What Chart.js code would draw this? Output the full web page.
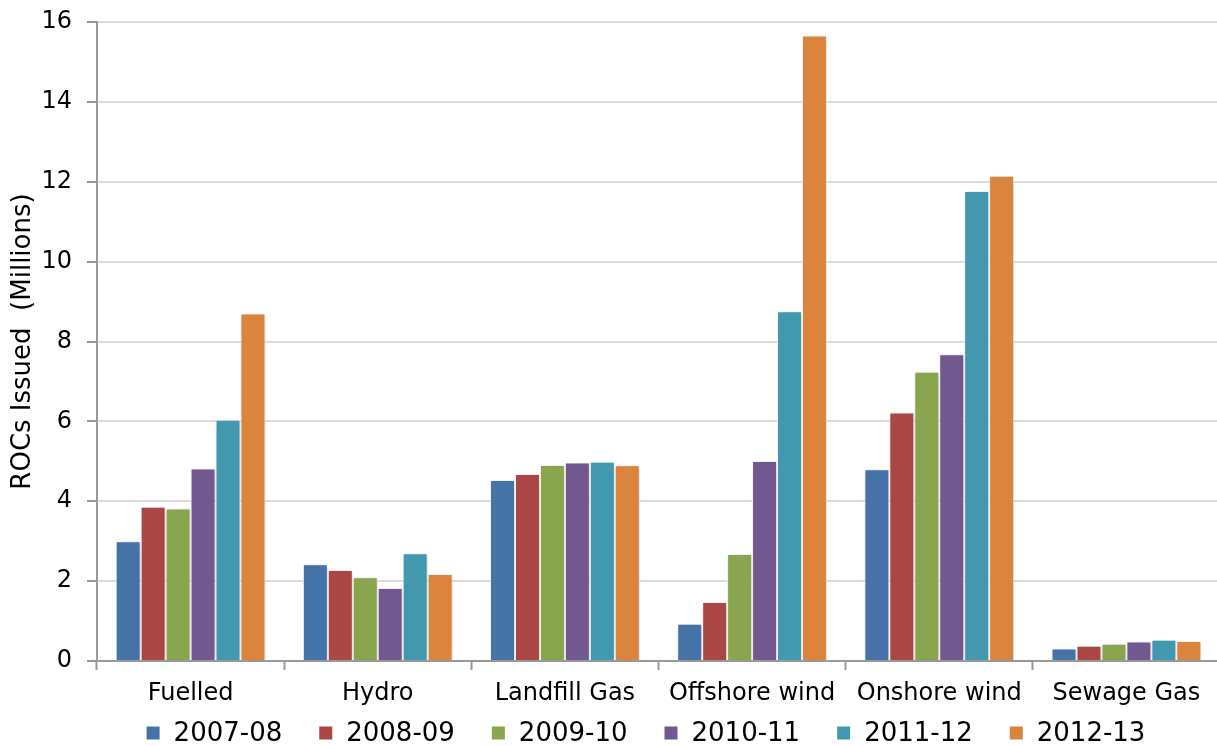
<!DOCTYPE html>
<html>
<head>
<meta charset="utf-8">
<script src="https://cdn.jsdelivr.net/npm/chart.js@4/dist/chart.umd.min.js"></script>
<style>
html,body{margin:0;padding:0;overflow:hidden;background:#fff;}
#wrap{width:1222px;height:746px;}
</style>
</head>
<body>
<div id="wrap"><canvas id="c" width="1222" height="746"></canvas></div>
<script>
const categories = ['Fuelled','Hydro','Landfill Gas','Offshore wind','Onshore wind','Sewage Gas'];
const seriesNames = ['2007-08','2008-09','2009-10','2010-11','2011-12','2012-13'];
const colors = ['#4572A7','#AA4643','#89A54E','#71588F','#4198AF','#DB843D'];
const v2007_08 = [3.00, 2.42, 4.53, 0.93, 4.80, 0.31];
const v2008_09 = [3.86, 2.28, 4.68, 1.48, 6.22, 0.38];
const v2009_10 = [3.82, 2.10, 4.91, 2.68, 7.24, 0.43];
const v2010_11 = [4.82, 1.83, 4.97, 5.01, 7.68, 0.49];
const v2011_12 = [6.04, 2.70, 4.99, 8.76, 11.77, 0.53];
const v2012_13 = [8.70, 2.18, 4.90, 15.66, 12.15, 0.50];
const yTicks = [0, 2, 4, 6, 8, 10, 12, 14, 16];
const yTitle = 'ROCs Issued  (Millions)';

const values = [v2007_08, v2008_09, v2009_10, v2010_11, v2011_12, v2012_13];
const FONT = "'DejaVu Sans', Verdana, sans-serif";

const shadowPlugin = {
  id: 'barShadow',
  beforeDatasetsDraw(chart) {
    const ctx = chart.ctx;
    ctx.save();
    ctx.shadowColor = 'rgba(0,0,0,0.2)';
    ctx.shadowBlur = 6;
    ctx.shadowOffsetX = 1;
    ctx.shadowOffsetY = 1;
  },
  afterDatasetsDraw(chart) {
    chart.ctx.restore();
  }
};

const legendPlugin = {
  id: 'customLegend',
  afterDraw(chart) {
    const ctx = chart.ctx;
    ctx.save();
    ctx.font = '26px ' + FONT;
    ctx.textBaseline = 'middle';
    ctx.textAlign = 'left';
    const box = 13, gapBT = 14, gap = 37;
    const items = chart.data.datasets.map(d => ({label: d.label, color: d.backgroundColor, w: ctx.measureText(d.label).width}));
    let total = items.reduce((s, it) => s + box + gapBT + it.w, 0) + gap * (items.length - 1);
    let x = 646 - total / 2;
    const cy = 733;
    items.forEach(it => {
      ctx.fillStyle = it.color;
      ctx.fillRect(x, cy - box / 2, box, box);
      ctx.fillStyle = '#000';
      ctx.fillText(it.label, x + box + gapBT, cy + 1);
      x += box + gapBT + it.w + gap;
    });
    ctx.restore();
  }
};

new Chart(document.getElementById('c'), {
  type: 'bar',
  data: {
    labels: categories,
    datasets: seriesNames.map((n, i) => ({
      label: n,
      data: values[i],
      backgroundColor: colors[i],
      borderColor: '#ffffff',
      borderWidth: 1,
      barPercentage: 1.0,
      categoryPercentage: 0.8
    }))
  },
  options: {
    responsive: false,
    animation: false,
    layout: { padding: { top: 22, right: 2, bottom: 38, left: 0 } },
    plugins: {
      legend: { display: false },
      tooltip: { enabled: false }
    },
    scales: {
      x: {
        offset: true,
        grid: {
          offset: true,
          drawOnChartArea: false,
          drawTicks: true,
          tickLength: 9,
          tickColor: '#999999',
          tickWidth: 2
        },
        border: { color: '#999999', width: 2 },
        ticks: {
          color: '#000',
          font: { family: FONT, size: 24 },
          padding: 9,
          maxRotation: 0,
          autoSkip: false
        },
        afterFit(scale) { scale.height = 47; }
      },
      y: {
        min: 0,
        max: 16,
        afterBuildTicks(scale) { scale.ticks = yTicks.map(v => ({ value: v })); },
        grid: {
          color: '#dcdcdc',
          lineWidth: 2,
          drawTicks: true,
          tickLength: 10,
          tickColor: '#999999',
          tickWidth: 2
        },
        border: { color: '#999999', width: 2 },
        ticks: {
          color: '#000',
          font: { family: FONT, size: 24 },
          padding: 15
        },
        title: {
          display: true,
          text: yTitle,
          color: '#000',
          font: { family: FONT, size: 26 },
          padding: { top: 8, bottom: 0 }
        },
        afterFit(scale) {
          scale.width = 97;
          scale.paddingTop = 0;
          scale.paddingBottom = 0;
        }
      }
    }
  },
  plugins: [shadowPlugin, legendPlugin]
});
</script>
</body>
</html>
